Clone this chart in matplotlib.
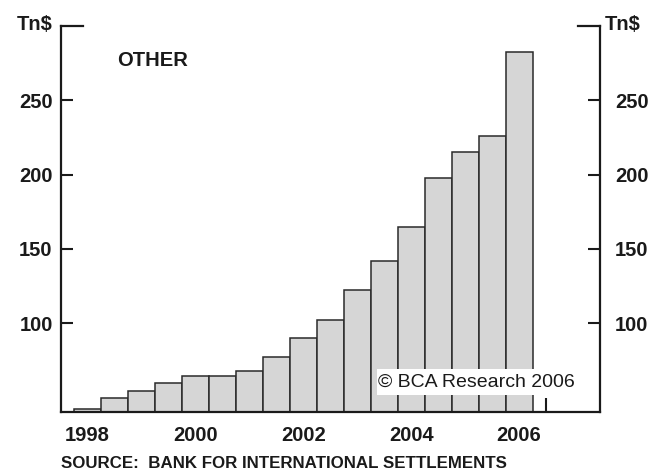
import matplotlib
matplotlib.use("Agg")
import matplotlib.pyplot as plt
from matplotlib.patches import Rectangle

plt.rcParams["font.family"] = ["Liberation Sans", "DejaVu Sans"]

# Half-yearly observations (June / December), Jun 1998 .. Jun 2006
period_labels = ["Jun 1998", "Dec 1998", "Jun 1999", "Dec 1999", "Jun 2000", "Dec 2000",
                 "Jun 2001", "Dec 2001", "Jun 2002", "Dec 2002", "Jun 2003", "Dec 2003",
                 "Jun 2004", "Dec 2004", "Jun 2005", "Dec 2005", "Jun 2006"]
period_pos = [1998.5, 1999.0, 1999.5, 2000.0, 2000.5, 2001.0, 2001.5, 2002.0, 2002.5,
              2003.0, 2003.5, 2004.0, 2004.5, 2005.0, 2005.5, 2006.0, 2006.5]
other_tn = [42.2, 49.5, 54.2, 59.8, 64.1, 64.3, 67.7, 77.1, 90.3, 101.8, 122.0, 142.0,
            165.0, 197.7, 215.2, 225.8, 282.4]

year_label_pos = [1998.5, 2000.5, 2002.5, 2004.5, 2006.5]
year_labels = ["1998", "2000", "2002", "2004", "2006"]
year_ticks = [1999, 2000, 2001, 2002, 2003, 2004, 2005, 2006, 2007]
y_ticks = [100, 150, 200, 250]
y_labels = ["100", "150", "200", "250"]

W, H = 649, 472
ink = "#1a1a1a"
fig = plt.figure(figsize=(W / 100, H / 100), dpi=100)
L, R, T, B = 60.7, 600.0, 26.0, 412.3
ax = fig.add_axes([L / W, 1 - B / H, (R - L) / W, (B - T) / H])

ax.bar(period_pos, other_tn, width=0.5, color="#d6d6d6", edgecolor="#2a2a2a",
       linewidth=1.1, zorder=1)
ax.set_xlim(1998, 2008)
ax.set_ylim(40, 300)
ax.set_axisbelow(True)

ax.spines["top"].set_visible(False)
for s in ["left", "right", "bottom"]:
    ax.spines[s].set_linewidth(1.6)
    ax.spines[s].set_color(ink)

fs = 14.5
ax.set_xticks(year_ticks, labels=[""] * len(year_ticks))
ax.set_xticks(year_label_pos, labels=year_labels, minor=True)
ax.tick_params(axis="x", which="major", direction="in", length=10, width=1.5, color=ink)
ax.tick_params(axis="x", which="minor", length=0, pad=10, labelsize=fs, labelcolor=ink)
for t in ax.get_xticklabels(minor=True):
    t.set_fontweight("bold")

ax.set_yticks(y_ticks, labels=y_labels)
ax.tick_params(axis="y", which="major", direction="in", length=8.6, width=1.5, color=ink,
               pad=5.8, labelsize=fs, labelcolor=ink)
for t in ax.get_yticklabels():
    t.set_fontweight("bold")

ax2 = ax.twinx()
ax2.set_ylim(40, 300)
for s in ax2.spines.values():
    s.set_visible(False)
ax2.set_yticks(y_ticks, labels=y_labels)
ax2.tick_params(axis="y", which="major", direction="in", length=8.6, width=1.5, color=ink,
                pad=10.8, labelsize=fs, labelcolor=ink)
for t in ax2.get_yticklabels():
    t.set_fontweight("bold")

# top corner marks
cw = 22 / (R - L)
ax.plot([0, cw], [1, 1], transform=ax.transAxes, color=ink, lw=1.6, clip_on=False,
        solid_capstyle="projecting")
ax.plot([1 - cw, 1], [1, 1], transform=ax.transAxes, color=ink, lw=1.6, clip_on=False,
        solid_capstyle="projecting")

fig.text(52.7 / W, 1 - 25 / H, "Tn$", ha="right", va="center", fontsize=fs,
         fontweight="bold", color=ink)
fig.text(605 / W, 1 - 25 / H, "Tn$", ha="left", va="center", fontsize=fs,
         fontweight="bold", color=ink)
fig.text(116.7 / W, 1 - 61 / H, "OTHER", ha="left", va="center", fontsize=fs,
         fontweight="bold", color=ink)

fig.add_artist(Rectangle((376.7 / W, 1 - 395 / H), (576 - 376.7) / W, (395 - 369.3) / H,
                         transform=fig.transFigure, facecolor="white", edgecolor="none",
                         zorder=3))
fig.text(378 / W, 1 - 382 / H, "\u00a9 BCA Research 2006", ha="left", va="center",
         fontsize=14, color=ink, zorder=4)

fig.text(61 / W, 1 - 463 / H, "SOURCE:  BANK FOR INTERNATIONAL SETTLEMENTS", ha="left",
         va="center", fontsize=12.2, fontweight="bold", color=ink)

fig.savefig("out.png", dpi=100)
